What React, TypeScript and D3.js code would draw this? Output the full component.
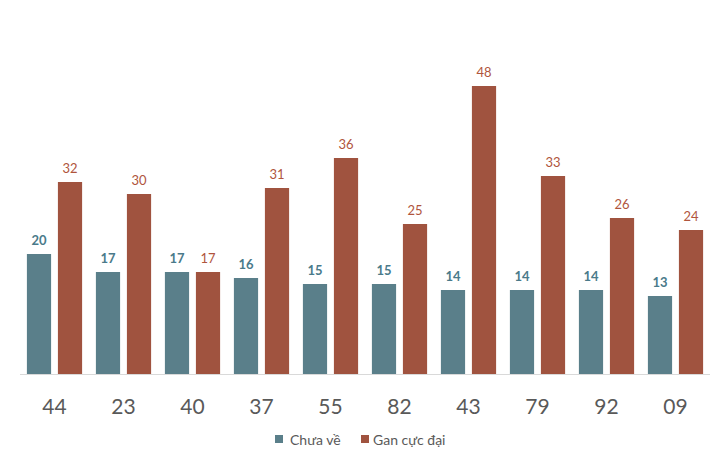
import React from "react";
import * as d3 from "d3";

const categories = ["44", "23", "40", "37", "55", "82", "43", "79", "92", "09"];
const chuaVe = [20, 17, 17, 16, 15, 15, 14, 14, 14, 13];
const ganCucDai = [32, 30, 17, 31, 36, 25, 48, 33, 26, 24];
const seriesNames = ["Chưa về", "Gan cực đại"];

const W = 717;
const H = 463;
const baseY = 374;
const teal = "#5a7f8a";
const red = "#a0533f";
const tealLabel = "#4a7a8a";
const redLabel = "#b0553d";

export default function App() {
  const x = d3.scaleBand<string>().domain(categories).range([20, 710]).paddingInner(0.2).paddingOuter(0.1);
  const inner = d3.scaleBand<number>().domain([0, 1]).range([0, x.bandwidth()]).paddingInner(0.22);
  const y = d3.scaleLinear().domain([0, 48]).range([baseY, 86]);
  const series = [chuaVe, ganCucDai];
  const colors = [teal, red];
  const labelColors = [tealLabel, redLabel];
  const font = "Lato, 'Open Sans', sans-serif";
  return (
    <svg width={W} height={H} style={{ position: "absolute", left: 0, top: 0 }} fontFamily={font}>
      <rect width={W} height={H} fill="#fff" />
      {categories.map((c, i) => (
        <g key={c} transform={`translate(${x(c)},0)`}>
          {series.map((s, k) => (
            <g key={k}>
              <rect x={inner(k)} y={y(s[i])} width={inner.bandwidth()} height={baseY - y(s[i])} fill={colors[k]} />
              <text
                x={(inner(k) as number) + inner.bandwidth() / 2}
                y={y(s[i]) - 9}
                textAnchor="middle"
                fontSize={13}
                fontWeight={k === 0 ? "bold" : "normal"}
                fill={labelColors[k]}
              >
                {s[i]}
              </text>
            </g>
          ))}
          <text x={x.bandwidth() / 2} y={414} textAnchor="middle" fontSize={21} fill="#595959">
            {c}
          </text>
        </g>
      ))}
      <line x1={20} x2={710} y1={baseY + 0.5} y2={baseY + 0.5} stroke="#d9d9d9" strokeWidth={1} />
      <g fontSize={14} fill="#595959">
        <rect x={275} y={435} width={8} height={8} fill={teal} />
        <text x={290} y={445}>{seriesNames[0]}</text>
        <rect x={361} y={435} width={8} height={8} fill={red} />
        <text x={373} y={445}>{seriesNames[1]}</text>
      </g>
    </svg>
  );
}
